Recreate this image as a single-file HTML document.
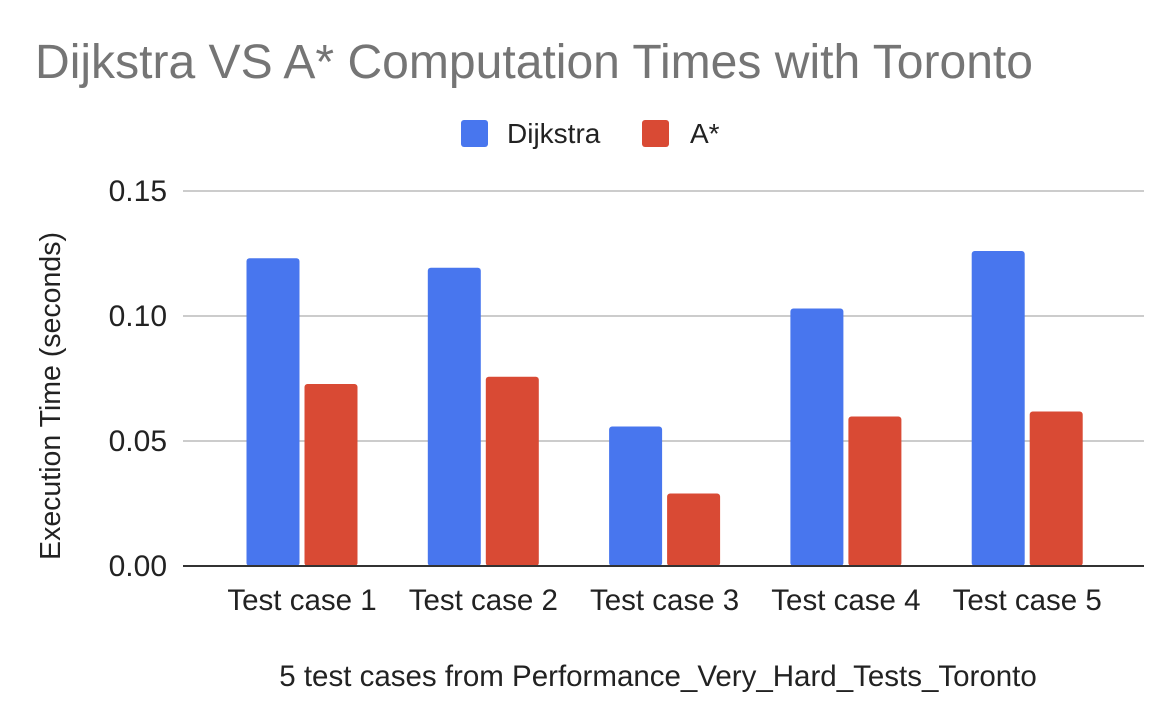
<!DOCTYPE html>
<html><head><meta charset="utf-8"><style>
body{margin:0;background:#fff;font-family:"Liberation Sans",Arial,sans-serif;}
svg{display:block}
</style></head><body>
<svg id="chart" width="1176" height="725">
<text x="35" y="78" font-size="48" textLength="998" lengthAdjust="spacingAndGlyphs" fill="#757575">Dijkstra VS A* Computation Times with Toronto</text>
<g>
<rect x="461" y="120" width="27" height="27" rx="3" fill="#4876EE"/>
<text x="507" y="143" font-size="28" fill="#222">Dijkstra</text>
<rect x="642" y="120" width="27" height="27" rx="3" fill="#D94A34"/>
<text x="690" y="143" font-size="28" fill="#222">A*</text>
</g>
<g id="grid"></g><g id="bars"></g><g id="labels"></g>
<text transform="translate(60,396) rotate(-90)" text-anchor="middle" font-size="28.5" fill="#222">Execution Time (seconds)</text>
<text x="658" y="686" text-anchor="middle" font-size="29.5" fill="#222">5 test cases from Performance_Very_Hard_Tests_Toronto</text>
</svg>
<script>
const categories=["Test case 1","Test case 2","Test case 3","Test case 4","Test case 5"];
const dijkstra=[0.1231,0.1193,0.0558,0.1030,0.1260];
const astar=[0.0728,0.0757,0.0290,0.0598,0.0618];
const yTicks=[0,0.05,0.10,0.15];
const yTickLabels=["0.00","0.05","0.10","0.15"];
const NS="http://www.w3.org/2000/svg";
const y0=566,pxPer=125/0.05,left=183,right=1144,x0=302,step=181.3,bw=53,gap=5;
const y=v=>y0-v*pxPer;
const xc=i=>x0+i*step;
function mk(t,a,p){const e=document.createElementNS(NS,t);for(const k in a)e.setAttribute(k,a[k]);p.appendChild(e);return e;}
const grid=document.getElementById('grid'),bars=document.getElementById('bars'),labels=document.getElementById('labels');
yTicks.forEach((v,i)=>{
 if(v!==0){const l=mk('line',{x1:left,x2:right,y1:y(v),y2:y(v),stroke:'#ccc','stroke-width':2},grid);
 
 }
 const t=mk('text',{x:167,y:y(v)+10,'text-anchor':'end','font-size':30,fill:'#222'},labels);t.textContent=yTickLabels[i];
 
 
});
categories.forEach((c,i)=>{
 const b1=mk('rect',{x:xc(i)-gap/2-bw,y:y(dijkstra[i]),width:bw,height:y0-y(dijkstra[i]),rx:3,fill:'#4876EE'},bars);
 
 
 const b2=mk('rect',{x:xc(i)+gap/2,y:y(astar[i]),width:bw,height:y0-y(astar[i]),rx:3,fill:'#D94A34'},bars);
 
 
 const t=mk('text',{x:xc(i),y:610,'text-anchor':'middle','font-size':29.5,fill:'#222'},labels);t.textContent=c;
 
 
});
const ax=mk('line',{x1:left,x2:right,y1:y0,y2:y0,stroke:'#333','stroke-width':2},labels);


</script>
</body></html>
